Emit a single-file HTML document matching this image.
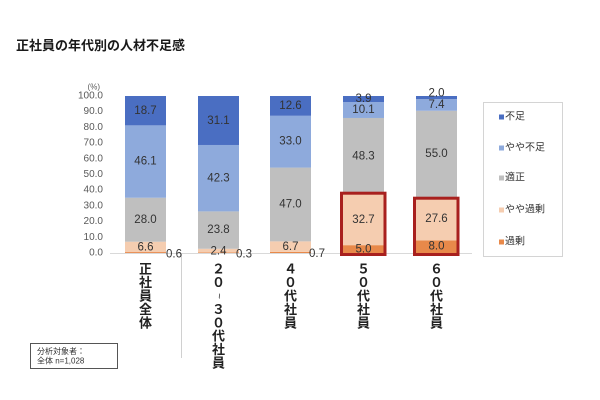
<!DOCTYPE html>
<html><head><meta charset="utf-8"><style>
html,body{margin:0;padding:0;background:#fff;}
svg{display:block;}
text{font-family:"Liberation Sans","Noto Sans CJK JP",sans-serif;}
</style></head><body>
<svg width="600" height="400" viewBox="0 0 600 400" xmlns="http://www.w3.org/2000/svg">
<rect width="600" height="400" fill="#fff"/>
<text x="16" y="50" font-size="13" font-weight="bold" fill="#1a1a1a">正社員の年代別の人材不足感</text>

<!-- y axis labels -->
<g font-size="10" fill="#595959" text-anchor="end" dominant-baseline="central">
<text x="100" y="87" font-size="8">(%)</text>
<text x="103" y="96">100.0</text>
<text x="103" y="111.7">90.0</text>
<text x="103" y="127.4">80.0</text>
<text x="103" y="143.1">70.0</text>
<text x="103" y="158.8">60.0</text>
<text x="103" y="174.5">50.0</text>
<text x="103" y="190.2">40.0</text>
<text x="103" y="205.9">30.0</text>
<text x="103" y="221.6">20.0</text>
<text x="103" y="237.3">10.0</text>
<text x="103" y="253">0.0</text>
</g>

<!-- bars -->
<g>
<rect x="125" y="252.06" width="41" height="0.94" fill="#e8894a"/>
<rect x="125" y="241.7" width="41" height="10.36" fill="#f5cdb0"/>
<rect x="125" y="197.74" width="41" height="43.96" fill="#bfbfbf"/>
<rect x="125" y="125.36" width="41" height="72.38" fill="#8eaadc"/>
<rect x="125" y="96" width="41" height="29.36" fill="#4a6ec2"/>

<rect x="198" y="252.53" width="41" height="0.47" fill="#e8894a"/>
<rect x="198" y="248.76" width="41" height="3.77" fill="#f5cdb0"/>
<rect x="198" y="211.4" width="41" height="37.36" fill="#bfbfbf"/>
<rect x="198" y="144.98" width="41" height="66.42" fill="#8eaadc"/>
<rect x="198" y="96" width="41" height="48.98" fill="#4a6ec2"/>

<rect x="270" y="251.9" width="41" height="1.1" fill="#e8894a"/>
<rect x="270" y="241.38" width="41" height="10.52" fill="#f5cdb0"/>
<rect x="270" y="167.59" width="41" height="73.79" fill="#bfbfbf"/>
<rect x="270" y="115.78" width="41" height="51.81" fill="#8eaadc"/>
<rect x="270" y="96" width="41" height="19.78" fill="#4a6ec2"/>

<rect x="343" y="245.15" width="41" height="7.85" fill="#e8894a"/>
<rect x="343" y="193.81" width="41" height="51.34" fill="#f5cdb0"/>
<rect x="343" y="117.98" width="41" height="75.83" fill="#bfbfbf"/>
<rect x="343" y="102.12" width="41" height="15.86" fill="#8eaadc"/>
<rect x="343" y="96" width="41" height="6.12" fill="#4a6ec2"/>

<rect x="416" y="240.44" width="41" height="12.56" fill="#e8894a"/>
<rect x="416" y="197.11" width="41" height="43.33" fill="#f5cdb0"/>
<rect x="416" y="110.76" width="41" height="86.35" fill="#bfbfbf"/>
<rect x="416" y="99.14" width="41" height="11.62" fill="#8eaadc"/>
<rect x="416" y="96" width="41" height="3.14" fill="#4a6ec2"/>
</g>

<line x1="110" y1="253.5" x2="472" y2="253.5" stroke="#d9d9d9" stroke-width="1"/>
<line x1="181.5" y1="254" x2="181.5" y2="358" stroke="#d0d0d0" stroke-width="1"/>

<rect x="341.5" y="193.2" width="43.5" height="61.3" fill="none" stroke="#a8201e" stroke-width="3"/>
<rect x="414.5" y="198.2" width="43.5" height="56.3" fill="none" stroke="#a8201e" stroke-width="3"/>

<g font-size="11.5" fill="#333" text-anchor="middle" dominant-baseline="central">
<text x="145.5" y="111">18.7</text>
<text x="145.5" y="161.5">46.1</text>
<text x="145.5" y="220">28.0</text>
<text x="145.5" y="247.5">6.6</text>
<text x="174" y="254.5">0.6</text>

<text x="218.5" y="121">31.1</text>
<text x="218.5" y="178.3">42.3</text>
<text x="218.5" y="230">23.8</text>
<text x="218.5" y="251.5">2.4</text>
<text x="244" y="254.5">0.3</text>

<text x="290.5" y="106">12.6</text>
<text x="290.5" y="141.5">33.0</text>
<text x="290.5" y="204.5">47.0</text>
<text x="290.5" y="247">6.7</text>
<text x="317" y="254">0.7</text>

<text x="363.5" y="99">3.9</text>
<text x="363.5" y="110">10.1</text>
<text x="363.5" y="156.5">48.3</text>
<text x="363.5" y="220">32.7</text>
<text x="363.5" y="249.5">5.0</text>

<text x="436.5" y="93.5">2.0</text>
<text x="436.5" y="105">7.4</text>
<text x="436.5" y="154">55.0</text>
<text x="436.5" y="219">27.6</text>
<text x="436.5" y="246.7">8.0</text>
</g>

<g font-size="13" font-weight="bold" fill="#222" text-anchor="middle" dominant-baseline="central">
<text x="145.5" y="269">正</text>
<text x="145.5" y="282.5">社</text>
<text x="145.5" y="296">員</text>
<text x="145.5" y="309.5">全</text>
<text x="145.5" y="323">体</text>

<text x="218.5" y="269">２</text>
<text x="218.5" y="282.5">０</text>
<text x="218.5" y="296" font-size="10" font-weight="normal" transform="rotate(90 218.5 296)">~</text>
<text x="218.5" y="309.5">３</text>
<text x="218.5" y="323">０</text>
<text x="218.5" y="336">代</text>
<text x="218.5" y="349.5">社</text>
<text x="218.5" y="363">員</text>

<text x="290.5" y="269">４</text>
<text x="290.5" y="282.5">０</text>
<text x="290.5" y="296">代</text>
<text x="290.5" y="309.5">社</text>
<text x="290.5" y="323">員</text>

<text x="363.5" y="269">５</text>
<text x="363.5" y="282.5">０</text>
<text x="363.5" y="296">代</text>
<text x="363.5" y="309.5">社</text>
<text x="363.5" y="323">員</text>

<text x="436.5" y="269">６</text>
<text x="436.5" y="282.5">０</text>
<text x="436.5" y="296">代</text>
<text x="436.5" y="309.5">社</text>
<text x="436.5" y="323">員</text>
</g>

<rect x="483.5" y="102.5" width="79" height="154" fill="#fff" stroke="#d4d4d4" stroke-width="1"/>
<g font-size="10" fill="#333" dominant-baseline="central">
<rect x="499" y="114.5" width="5" height="5" fill="#4a6ec2"/>
<text x="505" y="117">不足</text>
<rect x="499" y="145.5" width="5" height="5" fill="#8eaadc"/>
<text x="505" y="148">やや不足</text>
<rect x="499" y="175.5" width="5" height="5" fill="#bfbfbf"/>
<text x="505" y="178">適正</text>
<rect x="499" y="207.5" width="5" height="5" fill="#f5cdb0"/>
<text x="505" y="210">やや過剰</text>
<rect x="499" y="239.5" width="5" height="5" fill="#e8894a"/>
<text x="505" y="242">過剰</text>
</g>

<rect x="30.5" y="343.5" width="87" height="25" fill="#fff" stroke="#555" stroke-width="1"/>
<g font-size="8" fill="#333" dominant-baseline="central">
<text x="37" y="351.5">分析対象者：</text>
<text x="37" y="361">全体 n=1,028</text>
</g>
</svg>
</body></html>
